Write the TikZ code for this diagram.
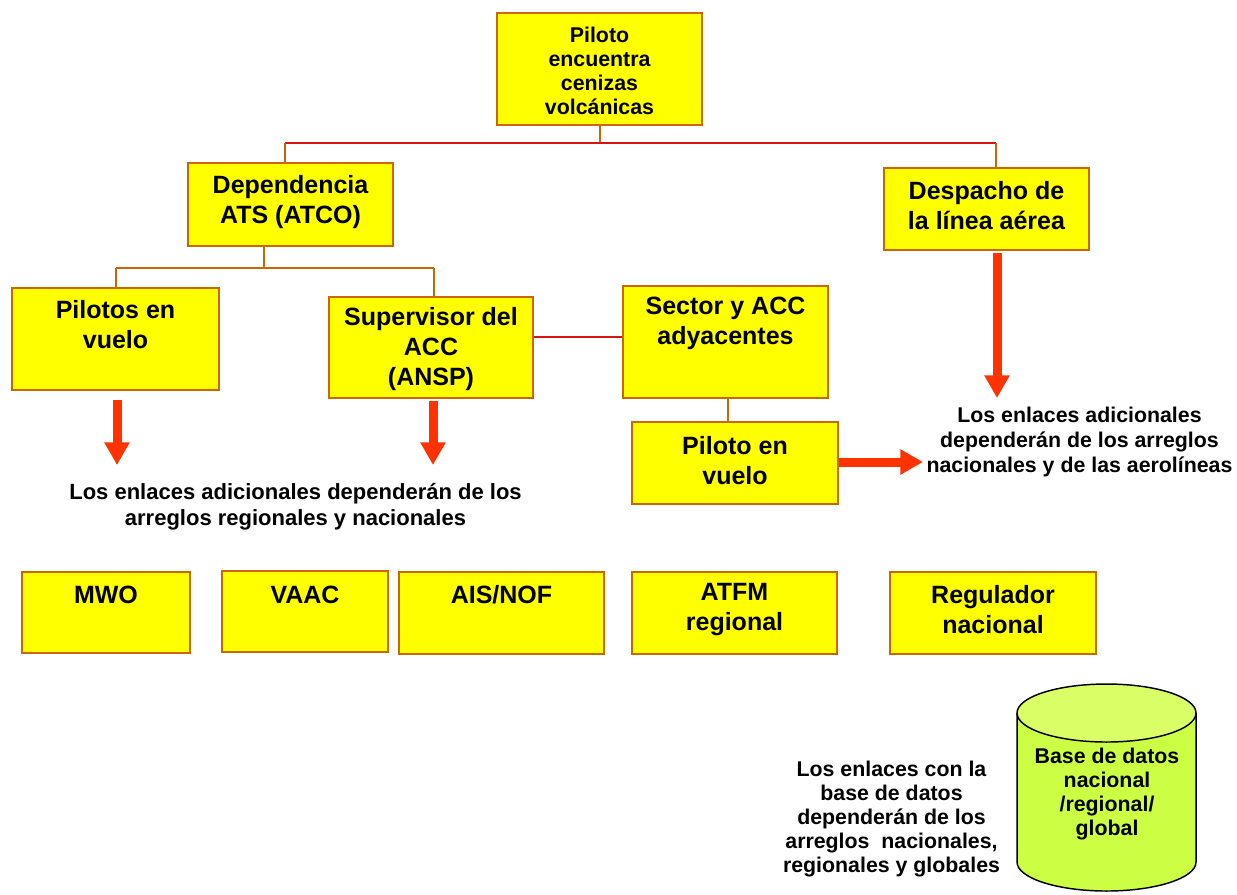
\documentclass[tikz,border=0pt]{standalone}
\usepackage{fontspec}
\setmainfont{Liberation Sans}
\usetikzlibrary{arrows.meta}
\definecolor{boxfill}{RGB}{255,255,0}
\definecolor{boxline}{RGB}{204,102,0}
\definecolor{redline}{RGB}{214,20,20}
\definecolor{arrowred}{RGB}{255,51,0}
\definecolor{dbbody}{RGB}{204,255,68}
\definecolor{dbtop}{RGB}{218,255,102}
\tikzset{
  box/.style={draw=boxline, fill=boxfill, line width=1.5pt, inner sep=0pt},
  bt/.style={font=\fontsize{18.75pt}{22.5pt}\selectfont\bfseries, align=center, inner sep=0pt},
  tt/.style={font=\fontsize{16pt}{18pt}\selectfont\bfseries, align=center, inner sep=0pt},
  descL/.style={font=\fontsize{16.5pt}{19.5pt}\selectfont\bfseries, align=center, inner sep=0pt},
  descR/.style={font=\fontsize{16pt}{18.75pt}\selectfont\bfseries, align=center, inner sep=0pt},
  descD/.style={font=\fontsize{16pt}{18pt}\selectfont\bfseries, align=center, inner sep=0pt},
  conn/.style={draw=boxline, line width=1.5pt},
  hl/.style={draw=redline, line width=1.5pt},
  bigarrow/.style={draw=arrowred, line width=6.75pt, -{Triangle[width=18pt,length=17pt]}}
}
\begin{document}
\begin{tikzpicture}[x=0.75pt,y=-0.75pt]
\useasboundingbox (0,0) rectangle (1237,894);

% boxes
\node[box, minimum width=153.75pt, minimum height=84pt]    (b1) at (599.5,69) {};
\node[box, minimum width=153.75pt, minimum height=62.25pt] (b2) at (290.5,204.5) {};
\node[box, minimum width=153.75pt, minimum height=61.5pt]  (b3) at (986.5,209) {};
\node[box, minimum width=155.25pt, minimum height=76.5pt]  (b4) at (115.5,339) {};
\node[box, minimum width=153pt,    minimum height=75.75pt] (b5) at (431,347.5) {};
\node[box, minimum width=153.75pt, minimum height=84pt]    (b6) at (725.5,342) {};
\node[box, minimum width=154.5pt,  minimum height=61.5pt]  (b7) at (735,463) {};
\node[box, minimum width=126pt,    minimum height=60.75pt] (b8) at (106,612.5) {};
\node[box, minimum width=124.5pt,  minimum height=60.75pt] (b9) at (305,611.5) {};
\node[box, minimum width=153.75pt, minimum height=61.5pt]  (b10) at (501.5,613) {};
\node[box, minimum width=153.75pt, minimum height=61.5pt]  (b11) at (734.5,613) {};
\node[box, minimum width=154.5pt,  minimum height=61.5pt]  (b12) at (993,613) {};

% box texts
\node[tt] (t1) at (599.5,71) {Piloto\\encuentra\\cenizas\\volcánicas};
\node[bt] (t2) at (290.5,202) {Dependencia\\ATS (ATCO)};
\node[bt] (t3) at (986.5,206) {Despacho de\\la línea aérea};
\node[bt] (t4) at (115.5,325) {Pilotos en\\vuelo};
\node[bt] (t5) at (431,349) {Supervisor del\\ACC\\(ANSP)};
\node[bt] (t6) at (725.5,323) {Sector y ACC\\adyacentes};
\node[bt] (t7) at (735,461) {Piloto en\\vuelo};
\node[bt] (t8) at (106,595) {MWO};
\node[bt] (t9) at (305,595) {VAAC};
\node[bt] (t10) at (501.5,595) {AIS/NOF};
\node[bt] (t11) at (734.5,610) {ATFM\\regional};
\node[bt] (t12) at (993,610) {Regulador\\nacional};

% description texts
\node[descL] (d1) at (295.5,507) {Los enlaces adicionales dependerán de los\\arreglos regionales y nacionales};
\node[descR] (d2) at (1079.5,442) {Los enlaces adicionales\\dependerán de los arreglos\\nacionales y de las aerolíneas};
\node[descD] (d3) at (891.5,819.5) {Los enlaces con la\\base de datos\\dependerán de los\\arreglos\ \ nacionales,\\regionales y globales};

% connectors
\coordinate (jTop) at (599.5,143);
\coordinate (hL) at (285,143);
\coordinate (hR) at (996,143);
\draw[conn] (b1.south) -- (jTop);
\draw[hl] (hL) -- (hR);
\draw[conn] (hL) -- (hL |- b2.north);
\draw[conn] (hR) -- (hR |- b3.north);

\coordinate (j2) at (264,268);
\coordinate (h2L) at (116,268);
\coordinate (h2R) at (434,268);
\draw[conn] (b2.south -| j2) -- (j2);
\draw[conn] (h2L) -- (h2R);
\draw[conn] (h2L) -- (h2L |- b4.north);
\draw[conn] (h2R) -- (h2R |- b5.north);

\coordinate (s1) at (533,337);
\draw[hl] (b5.east |- s1) -- (b6.west |- s1);

\coordinate (c67) at (727.5,0);
\draw[conn] (b6.south -| c67) -- (b7.north -| c67);

% big arrows
\coordinate (e1) at (117,465);
\coordinate (e2) at (433,465);
\coordinate (e3) at (997,398);
\coordinate (e4) at (923,462);
\draw[bigarrow, shorten <=6.75pt] (b4.south -| e1) -- (e1);
\draw[bigarrow, shorten <=1.5pt] (b5.south -| e2) -- (e2);
\draw[bigarrow, shorten <=1.5pt] (b3.south -| e3) -- (e3);
\draw[bigarrow] (b7.east |- e4) -- (e4);

% database cylinder
\fill[dbbody] (1017,713) -- (1017,862) .. controls (1017,878) and (1057.1,891) .. (1106.5,891)
  .. controls (1155.9,891) and (1196,878) .. (1196,862) -- (1196,713) -- cycle;
\draw[black, line width=1.1pt] (1017,713) -- (1017,862) .. controls (1017,878) and (1057.1,891) .. (1106.5,891)
  .. controls (1155.9,891) and (1196,878) .. (1196,862) -- (1196,713);
\draw[black, line width=1.1pt, fill=dbtop] (1106.5,713) ellipse [x radius=89.5, y radius=29];
\node[descD] (db) at (1107,794) {Base de datos\\nacional\\/regional/\\global};
\end{tikzpicture}
\end{document}
